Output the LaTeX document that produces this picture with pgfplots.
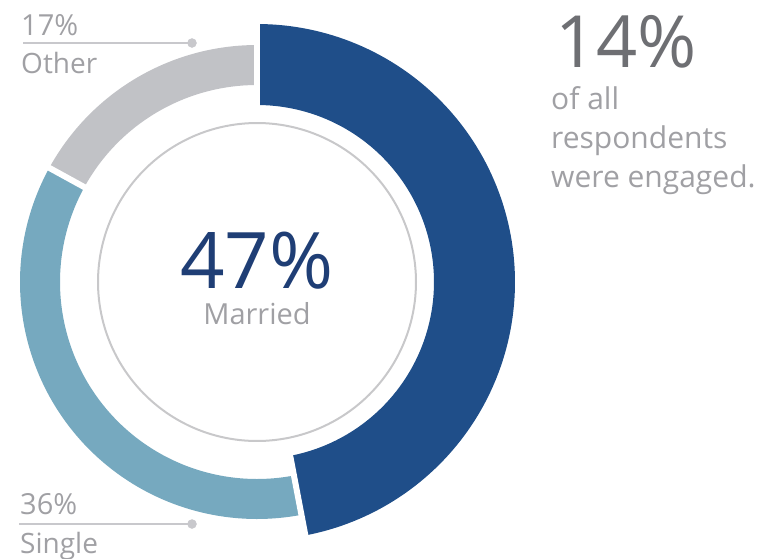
\documentclass[border=0pt]{standalone}
\usepackage{pgfplots}
\pgfplotsset{compat=1.18}
\usepackage{fontspec}
\setmainfont{Open Sans}
\definecolor{married}{HTML}{1F4E89}
\definecolor{single}{HTML}{76A9BF}
\definecolor{other}{HTML}{C1C2C6}
\definecolor{ring}{HTML}{C8C8CA}
\definecolor{lead}{HTML}{C8C8CC}
\definecolor{lbl}{HTML}{A0A0A4}
\definecolor{big}{HTML}{6E6F73}
\definecolor{navy}{HTML}{1F3E75}
\begin{document}
\begin{tikzpicture}
\begin{axis}[name=ax, x=1pt, y=1pt, xmin=0, xmax=761, ymin=0, ymax=558,
  y dir=reverse, hide axis, clip=false, scale only axis]
% thin inner circle
\addplot[ring, line width=2pt, domain=0:360, samples=200, variable=\t]
  ({257+159*cos(t)}, {282-159*sin(t)});
% Married 47% : 90 -> -79.2 (clockwise)
\addplot[married, line width=81pt, domain=-79.2:90, samples=120, variable=\t]
  ({257+217.5*cos(t)}, {282-217.5*sin(t)});
% Single 36% : -79.2 -> -208.8
\addplot[single, line width=40pt, domain=151.2:280.8, samples=120, variable=\t]
  ({257+217*cos(t)}, {282-217*sin(t)});
% Other 17% : -208.8 -> -270
\addplot[other, line width=40pt, domain=90:151.2, samples=80, variable=\t]
  ({257+217*cos(t)}, {282-217*sin(t)});
% separators
\addplot[white, line width=6pt] coordinates {(257,112) (257,14)};
\addplot[white, line width=6pt] coordinates {(288.9,449.0) (307.2,545.0)};
\addplot[white, line width=6pt] coordinates {(108.0,200.1) (22.2,153.0)};
% leader lines
\addplot[lead, line width=2.2pt] coordinates {(23,43) (192,43)};
\addplot[lead, only marks, mark=*, mark size=4.5pt] coordinates {(192,43)};
\addplot[lead, line width=2.2pt] coordinates {(19,524) (192,524)};
\addplot[lead, only marks, mark=*, mark size=4.5pt] coordinates {(192,524)};
% labels
\node[anchor=base west, inner sep=0, text=lbl, font=\fontsize{29}{29}\selectfont] at (axis cs:21,35) {17\%};
\node[anchor=base west, inner sep=0, text=lbl, font=\fontsize{28}{28}\selectfont] at (axis cs:21,73) {Other};
\node[anchor=base west, inner sep=0, text=lbl, font=\fontsize{29}{29}\selectfont] at (axis cs:20,514) {36\%};
\node[anchor=base west, inner sep=0, text=lbl, font=\fontsize{28}{28}\selectfont] at (axis cs:20,553) {Single};
% center
\node[anchor=base, inner sep=0, text=navy, font=\fontsize{78}{78}\selectfont] at (axis cs:257,288) {47\%};
\node[anchor=base, inner sep=0, text=lbl, font=\fontsize{29}{29}\selectfont] at (axis cs:257,324) {Married};
% right text
\node[anchor=base west, inner sep=0, text=big, font=\fontsize{72}{72}\selectfont] at (axis cs:555,67) {14\%};
\node[anchor=base west, inner sep=0, text=lbl, font=\fontsize{30}{30}\selectfont] at (axis cs:551,109) {of all};
\node[anchor=base west, inner sep=0, text=lbl, font=\fontsize{30}{30}\selectfont] at (axis cs:551,148) {respondents};
\node[anchor=base west, inner sep=0, text=lbl, font=\fontsize{30}{30}\selectfont] at (axis cs:551,187) {were engaged.};
\end{axis}
\pgfresetboundingbox
\path[use as bounding box] (ax.south west) rectangle (ax.north east);
\end{tikzpicture}
\end{document}
